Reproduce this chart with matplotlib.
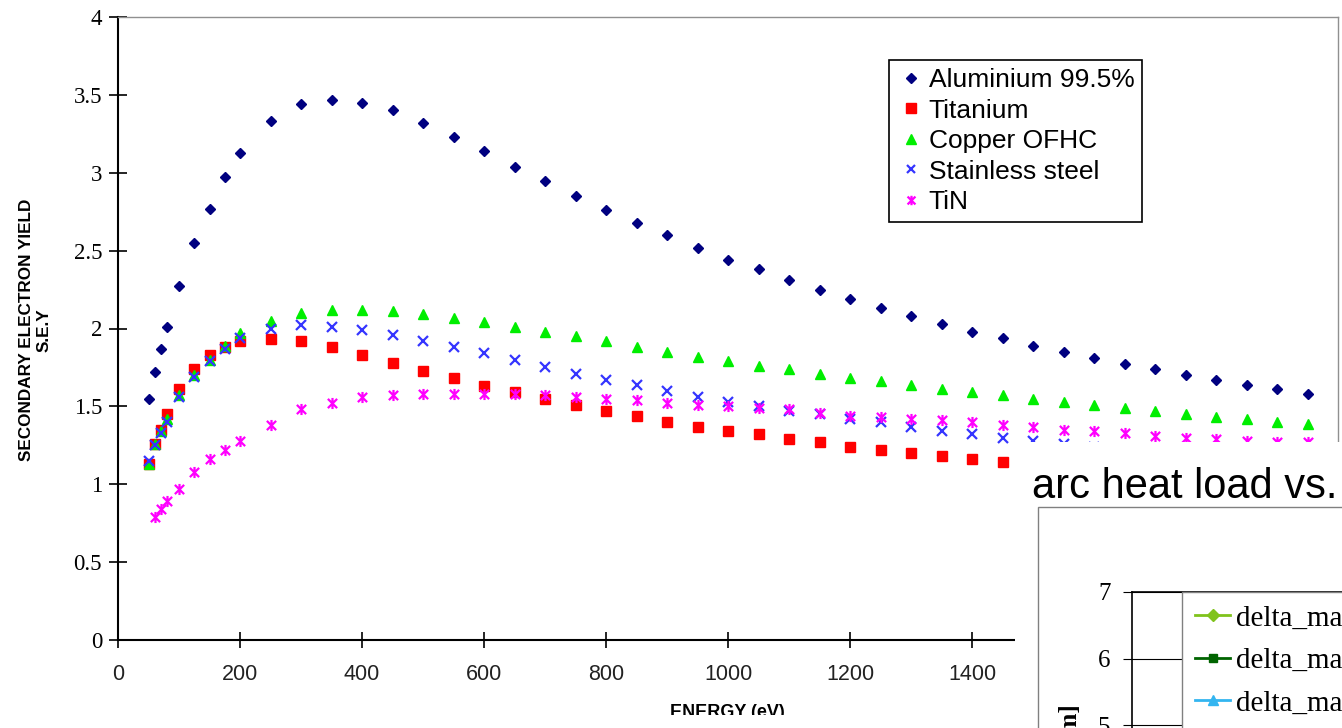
import matplotlib
matplotlib.use("Agg")
import matplotlib.pyplot as plt
from matplotlib.patches import Rectangle
from matplotlib.path import Path
from matplotlib.lines import Line2D

W, H = 1342, 728

energy = [50, 60, 70, 80, 100, 125, 150, 175, 200,
          250, 300, 350, 400, 450, 500, 550, 600, 650, 700,
          750, 800, 850, 900, 950, 1000, 1050, 1100, 1150, 1200,
          1250, 1300, 1350, 1400, 1450, 1500, 1550, 1600, 1650, 1700,
          1750, 1800, 1850, 1900, 1950]
energy_tin = energy[1:]

aluminium = [1.55, 1.72, 1.87, 2.01, 2.27, 2.55, 2.77, 2.97, 3.13,
             3.33, 3.44, 3.47, 3.45, 3.40, 3.32, 3.23, 3.14, 3.04, 2.95,
             2.85, 2.76, 2.68, 2.60, 2.52, 2.44, 2.38, 2.31, 2.25, 2.19,
             2.13, 2.08, 2.03, 1.98, 1.94, 1.89, 1.85, 1.81, 1.77, 1.74,
             1.70, 1.67, 1.64, 1.61, 1.58]
titanium = [1.13, 1.26, 1.35, 1.45, 1.61, 1.74, 1.83, 1.88, 1.92,
            1.93, 1.92, 1.88, 1.83, 1.78, 1.73, 1.68, 1.63, 1.59, 1.55,
            1.51, 1.47, 1.44, 1.40, 1.37, 1.34, 1.32, 1.29, 1.27, 1.24,
            1.22, 1.20, 1.18, 1.16, 1.14, 1.12, 1.10, 1.08, 1.06, 1.05,
            1.03, 1.02, 1.00, 0.99, 0.98]
copper = [1.13, 1.26, 1.34, 1.42, 1.57, 1.70, 1.80, 1.89, 1.97,
          2.05, 2.10, 2.12, 2.12, 2.11, 2.09, 2.07, 2.04, 2.01, 1.98,
          1.95, 1.92, 1.88, 1.85, 1.82, 1.79, 1.76, 1.74, 1.71, 1.68,
          1.66, 1.64, 1.61, 1.59, 1.57, 1.55, 1.53, 1.51, 1.49, 1.47,
          1.45, 1.43, 1.42, 1.40, 1.39]
stainless = [1.15, 1.25, 1.33, 1.40, 1.56, 1.69, 1.79, 1.87, 1.94,
             2.00, 2.02, 2.01, 1.99, 1.96, 1.92, 1.88, 1.84, 1.80, 1.75,
             1.71, 1.67, 1.64, 1.60, 1.56, 1.53, 1.50, 1.47, 1.45, 1.42,
             1.40, 1.37, 1.34, 1.32, 1.30, 1.28, 1.26, 1.24, 1.22, 1.21,
             1.19, 1.18, 1.16, 1.15, 1.14]
tin = [0.79, 0.84, 0.89, 0.97, 1.08, 1.16, 1.22, 1.28,
       1.38, 1.48, 1.52, 1.56, 1.57, 1.58, 1.58, 1.58, 1.58, 1.57,
       1.56, 1.55, 1.54, 1.52, 1.51, 1.50, 1.49, 1.48, 1.46, 1.44,
       1.43, 1.42, 1.41, 1.40, 1.38, 1.37, 1.35, 1.34, 1.33, 1.31,
       1.30, 1.29, 1.28, 1.27, 1.27]

x_ticks = [0, 200, 400, 600, 800, 1000, 1200, 1400, 1600, 1800, 2000]
y_ticks = [0, 0.5, 1, 1.5, 2, 2.5, 3, 3.5, 4]
inset_ticks = [2, 3, 4, 5, 6, 7]
inset_labels = ["delta_max=1.1", "delta_max=1.3", "delta_max=1.5"]

# excel style star: an X with a vertical bar
star = Path([(-1, -1), (1, 1), (-1, 1), (1, -1), (0, -1.2), (0, 1.2)],
            [Path.MOVETO, Path.LINETO, Path.MOVETO, Path.LINETO, Path.MOVETO, Path.LINETO])

fig = plt.figure(figsize=(W / 100, H / 100), dpi=100)
ax = fig.add_axes([118 / W, 88 / H, 1220 / W, 623 / H])

ax.plot(energy, aluminium, ls='none', marker='D', ms=5.4, color='#000080', label='Aluminium 99.5%')
ax.plot(energy, titanium, ls='none', marker='s', ms=7.8, color='#ff0000', label='Titanium')
ax.plot(energy, copper, ls='none', marker='^', ms=7.8, color='#00ee00', label='Copper OFHC')
ax.plot(energy, stainless, ls='none', marker='x', ms=7, mew=1.6, color='#3535ff', label='Stainless steel')
ax.plot(energy_tin, tin, ls='none', marker=star, ms=8, mew=1.6, color='#ff00ff', label='TiN')

ax.set_xlim(0, 2000)
ax.set_ylim(0, 4)
ax.set_xticks(x_ticks)
ax.set_yticks(y_ticks)
ax.set_yticklabels(['%g' % v for v in y_ticks], family='Liberation Serif', fontsize=16.5)
ax.set_xticklabels([str(v) for v in x_ticks], family='Liberation Sans', fontsize=15.5, color='#222222')
ax.tick_params(direction='inout', length=13, width=1.2)
ax.tick_params(axis='y', pad=5)
ax.tick_params(axis='x', length=12, pad=11)
for s in ['left', 'bottom']:
    ax.spines[s].set_linewidth(1.5)
for s in ['top', 'right']:
    ax.spines[s].set_color('#909090')
    ax.spines[s].set_linewidth(1)

leg = ax.legend(loc='upper left', bbox_to_anchor=(889 / W, 1 - 60 / H), bbox_transform=fig.transFigure,
                borderaxespad=0, fancybox=False, edgecolor='black', framealpha=1,
                prop={'family': 'Liberation Sans', 'size': 19}, handlelength=1.1, handletextpad=0.1,
                labelspacing=0.25, borderpad=0.3, markerscale=0.85)
leg.get_frame().set_linewidth(1.2)

fig.text(35 / W, 1 - 330 / H, 'SECONDARY ELECTRON YIELD\nS.E.Y', rotation=90, ha='center', va='center',
         multialignment='center', family='Liberation Sans', fontweight='bold', fontsize=12.3, linespacing=1.2)
fig.text(727 / W, 1 - 704 / H, 'ENERGY (eV)', ha='center', va='top', family='Liberation Sans',
         fontweight='bold', fontsize=13)
# bottom strip of the slide cuts the axis title
fig.add_artist(Rectangle((0, 0), 1015 / W, 13 / H, transform=fig.transFigure, facecolor='white',
                         edgecolor='none', zorder=5))

# overlapping slide panel with a second chart
fig.add_artist(Rectangle((1015 / W, 0), 1, (H - 442) / H, transform=fig.transFigure, facecolor='white',
                         edgecolor='none', zorder=2))
fig.add_artist(Rectangle((1038 / W, -0.5), 1, (H - 507) / H + 0.5, transform=fig.transFigure, fill=False,
                         edgecolor='#808080', lw=1, zorder=3))
fig.text(1032 / W, 1 - 498 / H, 'arc heat load vs.', ha='left', va='baseline', family='Liberation Sans',
         fontsize=30, zorder=4)

ax2 = fig.add_axes([1132 / W, -0.3, 0.5, (H - 592) / H + 0.3], zorder=3)
ax2.set_ylim(7 - (0.3 * H + H - 592) / 66.5, 7)
ax2.set_xlim(0, 1)
ax2.set_yticks(inset_ticks)
ax2.set_yticklabels([str(v) for v in inset_ticks], family='Liberation Serif', fontsize=18)
ax2.set_xticks([])
ax2.tick_params(axis='y', direction='out', length=6.5, width=0.8, pad=9)
ax2.yaxis.grid(True, color='black', lw=0.8)
for s in ['left', 'top']:
    ax2.spines[s].set_linewidth(1.2)
for s in ['right', 'bottom']:
    ax2.spines[s].set_visible(False)

handles = [
    Line2D([], [], color='#80c31c', marker='D', ms=6, lw=2),
    Line2D([], [], color='#006400', marker='s', ms=6, lw=2),
    Line2D([], [], color='#33b5f0', marker='^', ms=7, lw=2),
]
leg2 = ax2.legend(handles, inset_labels, loc='upper left', bbox_to_anchor=(1182 / W, 1 - 592 / H),
                  bbox_transform=fig.transFigure, borderaxespad=0, fancybox=False, edgecolor='#808080',
                  framealpha=1, prop={'family': 'Liberation Serif', 'size': 21}, handlelength=1.2,
                  handletextpad=0.2, labelspacing=0.55, borderpad=0.45)

fig.text(1070 / W, 1 - 704 / H, 'heat load [W/m]', rotation=90, ha='center', va='top',
         family='Liberation Serif', fontweight='bold', fontsize=18, zorder=4)

fig.savefig('out.png', dpi=100)
